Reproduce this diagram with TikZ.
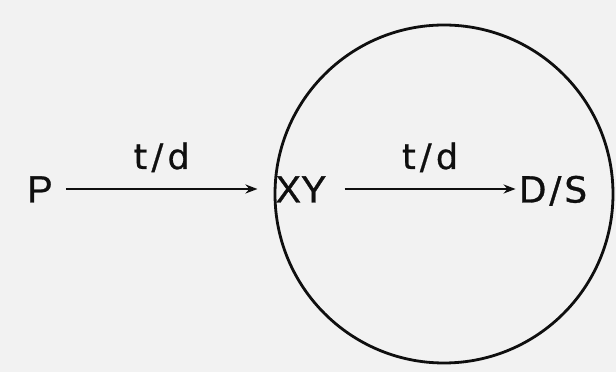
\documentclass[tikz,border=0pt]{standalone}
\usepackage{fontspec}
\setmainfont[FakeBold=0.8]{Liberation Sans}
\newfontfamily\widefont[FakeBold=0.8,LetterSpace=8]{DejaVu Sans}
\newfontfamily\labfont[FakeBold=0.8,LetterSpace=12]{DejaVu Sans}
\usepackage{tikz}
\usetikzlibrary{arrows.meta,positioning,shapes.geometric}
\usepackage{xcolor}
\definecolor{inkcolor}{RGB}{15,15,15}
\definecolor{papercolor}{RGB}{242,242,242}
\tikzset{
  term/.style   = {font=\fontsize{38}{40}\selectfont,text=inkcolor,
                   text height=27pt,text depth=0pt,inner ysep=2pt},
  flow/.style   = {-{Stealth[length=12pt,width=9pt]},line width=2.4pt,
                   color=inkcolor},
  flowlab/.style= {font=\labfont\fontsize{35}{37}\selectfont,text=inkcolor,
                   midway,anchor=base,yshift=20pt},
  ring/.style   = {draw=inkcolor,line width=2.8pt,circle,
                   minimum size=338pt,inner sep=0pt},
}

\begin{document}
\begin{tikzpicture}[x=1pt,y=1pt]
  \fill[papercolor] (0,0) rectangle (616,372);
  \useasboundingbox (0,0) rectangle (616,372);

  \node[ring] (group) at (444,178) {};

  \node[term,inner xsep=13pt] (p)  at (40,183)  {P};
  \node[term,inner xsep=18pt] (xy) at (301,183) {XY};
  \node[term,inner xsep=3pt,font=\widefont\fontsize{36}{40}\selectfont]
       (ds) at (553,183) {D/S};

  \draw[flow] (p)  -- node[flowlab] (td1) {t/d} (xy);
  \draw[flow] (xy) -- node[flowlab] (td2) {t/d} (ds);
\end{tikzpicture}
\end{document}
